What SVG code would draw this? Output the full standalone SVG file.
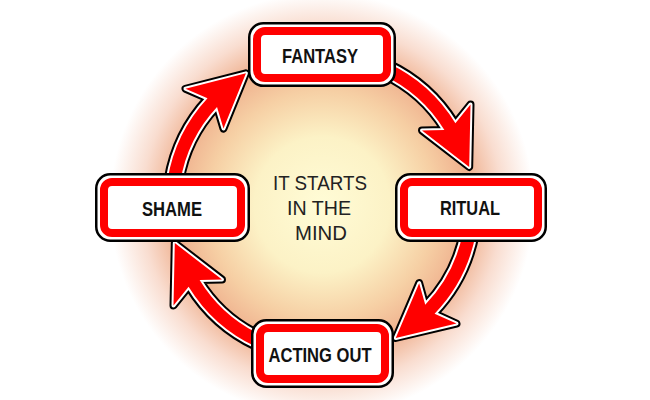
<svg xmlns="http://www.w3.org/2000/svg" xmlns:xlink="http://www.w3.org/1999/xlink" width="650" height="400" viewBox="0 0 650 400">
<style>
.ao{fill:none;stroke:#000;stroke-width:8;stroke-linejoin:round}
.aw{fill:none;stroke:#fff;stroke-width:4;stroke-linejoin:round}
.af{fill:#ff0000;stroke:none}
.bo{fill:#fff;stroke:#000;stroke-width:2.5}
.br{fill:#fff;stroke:#ff0000;stroke-width:8}
.lbl{font-family:"Liberation Sans",Arial,sans-serif;font-weight:bold;font-size:20px;fill:#111;text-anchor:middle}
.ctr{font-family:"Liberation Sans",Arial,sans-serif;font-size:21px;fill:#222;text-anchor:middle}
</style>
<defs>
<radialGradient id="glow" gradientUnits="userSpaceOnUse" cx="322" cy="205" r="212">
<stop offset="0" stop-color="#fffcd6"/>
<stop offset="0.32" stop-color="#fcf2c6"/>
<stop offset="0.54" stop-color="#f6cfa4"/>
<stop offset="0.7" stop-color="#efb08e"/>
<stop offset="0.85" stop-color="#f9ddd0"/>
<stop offset="1" stop-color="#ffffff"/>
</radialGradient>
<path id="ap" d="M469.2,166.9 L470.5,104.5 L455.4,123.2 A156.5,156.5 0 0 0 388.1,63.2 L382.6,74.9 A143.5,143.5 0 0 1 444.4,130.0 L422,130.5 Z"/>
<g id="arrow">
<use href="#ap" class="ao"/>
<use href="#ap" class="aw"/>
<use href="#ap" class="af"/>
</g>
</defs>
<rect x="0" y="0" width="650" height="400" fill="#fff"/>
<rect x="0" y="0" width="650" height="400" fill="url(#glow)"/>
<g id="connectors">
<use href="#arrow"/>
<use href="#arrow" transform="rotate(75.5 322 205)"/>
<use href="#arrow" transform="rotate(180 322 205)"/>
<use href="#arrow" transform="rotate(254.5 322 205)"/>
</g>
<g id="center-text">
<text class="ctr" x="320" y="190" textLength="94" lengthAdjust="spacingAndGlyphs">IT STARTS</text>
<text class="ctr" x="319" y="215" textLength="64" lengthAdjust="spacingAndGlyphs">IN THE</text>
<text class="ctr" x="321" y="240" textLength="52" lengthAdjust="spacingAndGlyphs">MIND</text>
</g>
<g id="fantasy">
<rect class="bo" x="249.25" y="23.25" width="145.5" height="62.5" rx="14"/>
<rect class="br" x="257" y="31" width="130" height="47" rx="8"/>
<text class="lbl" x="320" y="63" textLength="76" lengthAdjust="spacingAndGlyphs">FANTASY</text>
</g>
<g id="ritual">
<rect class="bo" x="396.25" y="174.25" width="149.5" height="66.5" rx="14"/>
<rect class="br" x="404" y="182" width="134" height="51" rx="8"/>
<text class="lbl" x="470" y="215" textLength="60" lengthAdjust="spacingAndGlyphs">RITUAL</text>
</g>
<g id="shame">
<rect class="bo" x="96.25" y="174.25" width="152.5" height="66.5" rx="14"/>
<rect class="br" x="104" y="182" width="137" height="51" rx="8"/>
<text class="lbl" x="172" y="216" textLength="60" lengthAdjust="spacingAndGlyphs">SHAME</text>
</g>
<g id="acting-out">
<rect class="bo" x="252.25" y="320.25" width="140.5" height="66.5" rx="14"/>
<rect class="br" x="260" y="328" width="125" height="51" rx="8"/>
<text class="lbl" x="320" y="362" textLength="103" lengthAdjust="spacingAndGlyphs">ACTING OUT</text>
</g>
</svg>
